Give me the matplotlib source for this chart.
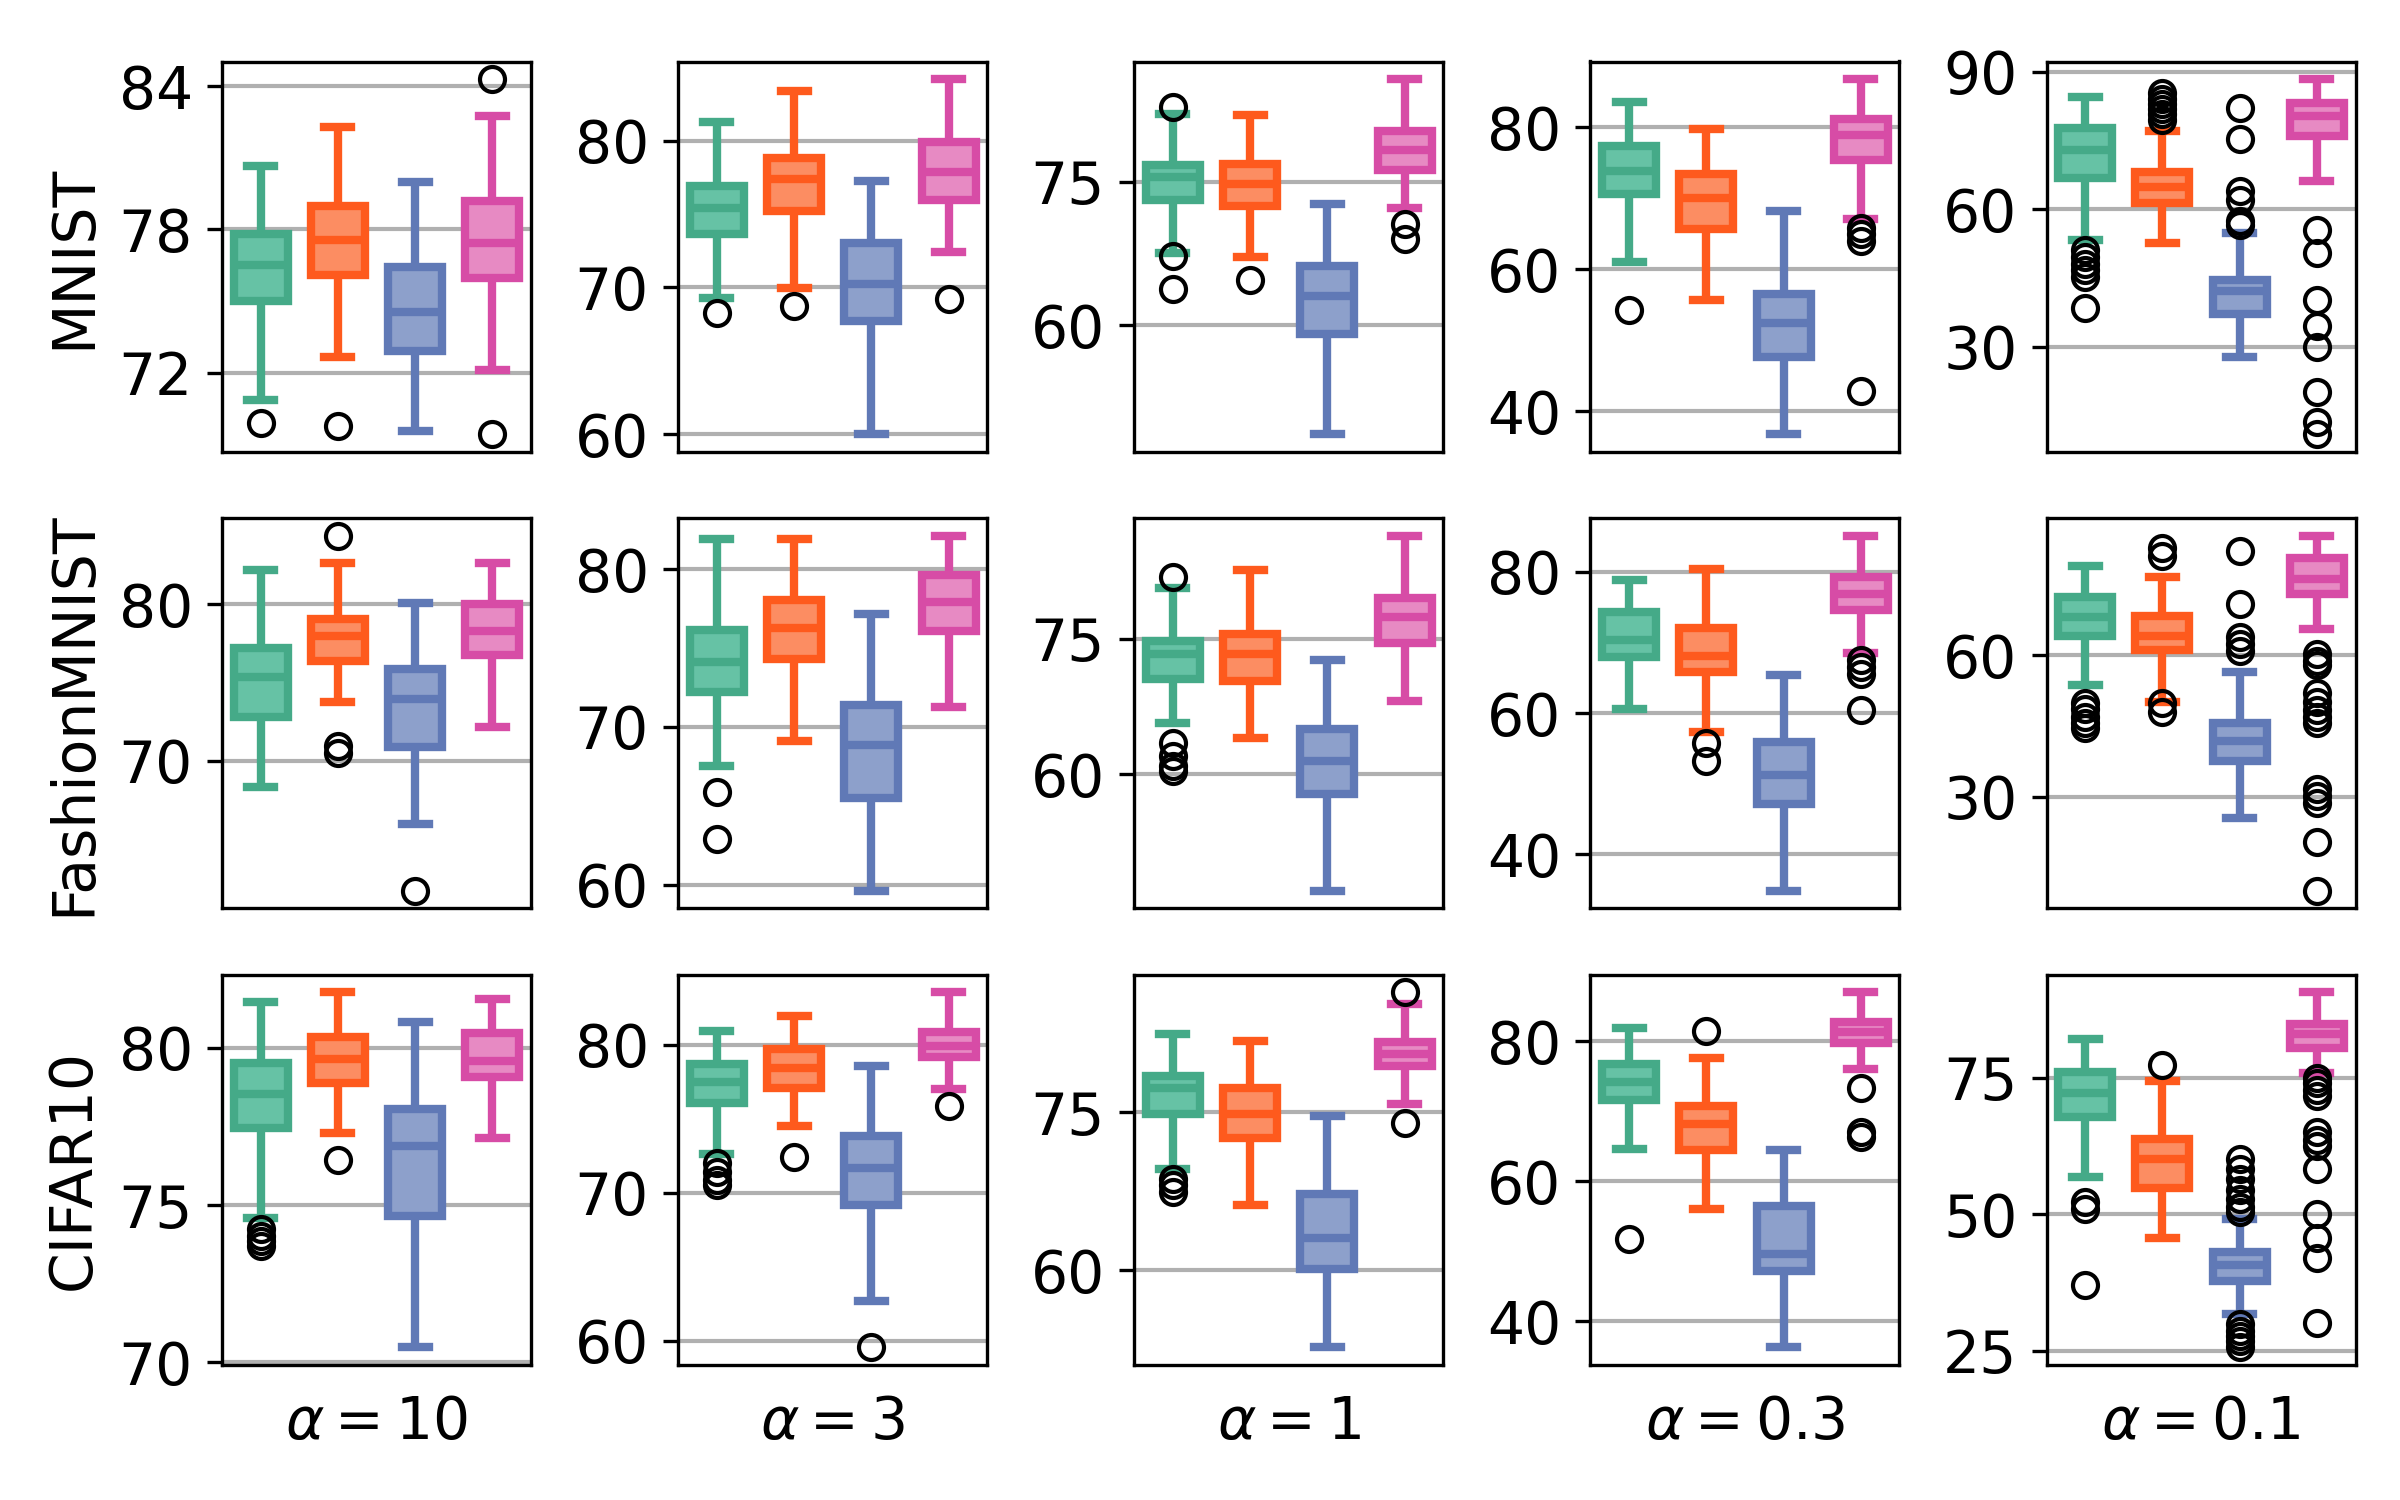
import matplotlib

matplotlib.use("Agg")
import matplotlib.pyplot as plt

DATASETS = ["MNIST", "FashionMNIST", "CIFAR10"]
ALPHAS = ["10", "3", "1", "0.3", "0.1"]

# per method: green, orange, blue, pink
EDGE = ["#45aa88", "#fe5a1d", "#6079b6", "#d74ca6"]
FACE = ["#66c2a5", "#fc8d62", "#8da0cb", "#e78ac3"]

# [dataset][alpha][method]
WHISLO = [
    [[70.84, 72.67, 69.55, 72.10], [69.28, 69.95, 60.00, 72.39], [67.62, 67.20, 48.66, 72.28],
     [61.07, 55.72, 36.79, 67.12], [53.36, 52.60, 27.80, 66.10]],
    [[68.32, 73.78, 65.94, 72.14], [67.51, 69.09, 59.64, 71.25], [65.69, 64.00, 47.09, 68.11],
     [60.56, 57.37, 34.84, 68.50], [53.66, 50.00, 25.50, 65.56]],
    [[74.59, 77.30, 70.48, 77.12], [72.63, 74.51, 62.71, 77.02], [69.61, 66.26, 52.70, 75.85],
     [64.60, 55.97, 36.26, 76.00], [56.90, 45.70, 31.66, 75.97]],
]
Q1 = [
    [[75.00, 76.10, 72.90, 75.95], [73.67, 75.18, 67.73, 75.97], [73.07, 72.48, 59.14, 76.20],
     [70.60, 65.63, 47.58, 75.44], [66.93, 61.50, 37.23, 76.10]],
    [[72.78, 76.35, 70.87, 76.77], [72.24, 74.31, 65.50, 76.08], [70.53, 70.31, 57.77, 74.49],
     [67.93, 65.82, 47.09, 74.55], [64.08, 61.13, 37.46, 73.03]],
    [[77.46, 78.88, 74.66, 79.07], [76.04, 77.09, 69.18, 79.17], [74.87, 72.53, 60.16, 79.38],
     [71.56, 64.45, 47.20, 79.76], [67.80, 54.90, 37.83, 80.50]],
]
MED = [
    [[76.50, 77.56, 74.54, 77.42], [75.43, 77.39, 70.25, 77.90], [75.50, 74.76, 63.07, 78.31],
     [73.86, 70.05, 52.37, 78.88], [73.07, 65.00, 42.30, 80.40]],
    [[75.33, 78.00, 73.97, 78.30], [74.12, 76.29, 68.88, 77.90], [73.31, 73.24, 61.40, 77.42],
     [70.38, 68.03, 51.27, 76.95], [68.24, 64.20, 41.70, 76.20]],
    [[78.53, 79.63, 76.89, 79.57], [77.49, 78.43, 71.67, 79.90], [77.32, 74.81, 63.07, 80.57],
     [74.22, 68.15, 49.57, 81.28], [72.20, 60.10, 40.74, 83.05]],
]
Q3 = [
    [[77.80, 79.00, 76.44, 79.18], [76.94, 78.83, 73.04, 79.93], [76.80, 76.90, 66.24, 80.28],
     [77.40, 73.49, 56.47, 81.20], [77.80, 68.20, 44.67, 83.30]],
    [[77.22, 79.04, 75.88, 80.02], [76.12, 78.05, 71.40, 79.64], [74.78, 75.51, 64.95, 79.47],
     [74.37, 72.07, 55.87, 79.30], [72.46, 68.45, 45.56, 80.63]],
    [[79.53, 80.36, 78.07, 80.47], [78.68, 79.73, 73.86, 80.87], [78.51, 77.35, 67.30, 81.70],
     [76.82, 70.76, 56.50, 82.80], [76.03, 63.74, 43.04, 84.93]],
]
WHISHI = [
    [[80.65, 82.30, 80.00, 82.77], [81.28, 83.40, 77.23, 84.20], [82.10, 82.00, 72.69, 85.72],
     [83.63, 79.72, 68.28, 86.79], [84.50, 77.00, 54.80, 88.40]],
    [[82.19, 82.65, 80.10, 82.65], [81.89, 81.93, 77.17, 82.10], [80.65, 82.63, 72.65, 86.37],
     [78.92, 80.47, 65.40, 85.12], [79.00, 76.55, 56.48, 85.40]],
    [[81.47, 81.76, 80.81, 81.55], [80.96, 81.93, 78.57, 83.54], [82.49, 81.80, 74.69, 85.30],
     [81.90, 77.63, 64.41, 87.00], [82.14, 74.50, 49.20, 90.68]],
]
FLIERS = [
    [
        [[69.9], [69.76], [], [84.3, 69.42]],
        [[68.27], [68.76], [], [69.23]],
        [[82.8, 67.3, 63.8], [64.7], [], [70.55, 69.0]],
        [[54.23], [], [], [65.86, 64.93, 64.0, 42.84]],
        [[51.2, 49.7, 48.2, 46.8, 45.3, 38.4],
         [85.5, 84.0, 83.0, 82.0, 80.8, 79.5],
         [82.2, 75.3, 64.0, 62.1, 57.5, 56.5],
         [55.5, 50.4, 40.2, 34.5, 30.0, 20.1, 13.6, 11.0]],
    ],
    [
        [[], [84.37, 70.93, 70.5], [61.7], []],
        [[65.88, 62.94], [], [], []],
        [[81.82, 63.41, 61.95, 60.85, 60.3], [], [], []],
        [[], [55.73, 53.2], [], [67.46, 66.5, 65.6, 60.4]],
        [[49.8, 48.7, 47.0, 45.56, 44.5],
         [82.9, 81.1, 49.8, 48.0],
         [82.2, 70.9, 63.9, 62.5, 61.0],
         [60.35, 58.9, 57.9, 51.9, 50.1, 48.4, 47.0, 45.6, 31.5, 30.1, 28.7, 20.35, 10.0]],
    ],
    [
        [[74.23, 74.02, 73.86, 73.7], [76.44], [], []],
        [[72.0, 71.44, 70.88, 70.55], [72.45], [59.57], [75.86]],
        [[68.7, 68.08, 67.45], [], [], [86.4, 74.03]],
        [[51.8], [81.42], [], [73.4, 67.1, 66.4]],
        [[52.2, 51.0, 37.1],
         [77.36],
         [60.1, 58.3, 56.5, 54.4, 52.8, 51.3, 50.4, 29.8, 28.6, 27.7, 26.8, 25.6],
         [74.94, 74.0, 72.8, 71.6, 65.0, 63.7, 62.5, 58.3, 50.1, 45.6, 41.9, 30.1]],
    ],
]
YTICKS = [
    [[72, 78, 84], [60, 70, 80], [60, 75], [40, 60, 80], [30, 60, 90]],
    [[70, 80], [60, 70, 80], [60, 75], [40, 60, 80], [30, 60]],
    [[70, 75, 80], [60, 70, 80], [60, 75], [40, 60, 80], [25, 50, 75]],
]

plt.rcParams["font.size"] = 14

fig, axes = plt.subplots(3, 5, figsize=(8, 5), dpi=300)
fig.subplots_adjust(left=0.0925, right=0.9815, top=0.959, bottom=0.09,
                    wspace=0.476, hspace=0.17)

LW = 2.0
for r in range(3):
    for c in range(5):
        ax = axes[r, c]
        stats = [
            {
                "whislo": WHISLO[r][c][k],
                "q1": Q1[r][c][k],
                "med": MED[r][c][k],
                "q3": Q3[r][c][k],
                "whishi": WHISHI[r][c][k],
                "fliers": FLIERS[r][c][k],
            }
            for k in range(4)
        ]
        arts = ax.bxp(
            stats,
            positions=range(4),
            widths=0.7,
            patch_artist=True,
            manage_ticks=False,
            boxprops={"linewidth": LW},
            whiskerprops={"linewidth": LW, "solid_capstyle": "butt"},
            capprops={"linewidth": LW},
            medianprops={"linewidth": LW, "solid_capstyle": "butt"},
            flierprops={"marker": "o", "markerfacecolor": "none",
                        "markeredgecolor": "black", "markersize": 6,
                        "markeredgewidth": 1.0},
        )
        for k in range(4):
            box = arts["boxes"][k]
            box.set_facecolor(FACE[k])
            box.set_edgecolor(EDGE[k])
            arts["medians"][k].set_color(EDGE[k])
            for line in arts["whiskers"][2 * k:2 * k + 2] + arts["caps"][2 * k:2 * k + 2]:
                line.set_color(EDGE[k])

        ax.set_xlim(-0.5, 3.5)
        ax.set_xticks([])
        ax.set_yticks(YTICKS[r][c])
        ax.yaxis.grid(True, color="#b0b0b0", linewidth=1.0)
        ax.set_axisbelow(True)

        if c == 0:
            ax.set_ylabel(DATASETS[r])
        if r == 2:
            ax.set_xlabel(rf"$\alpha = {ALPHAS[c]}$", labelpad=7)

fig.savefig("out.png", dpi=300)
